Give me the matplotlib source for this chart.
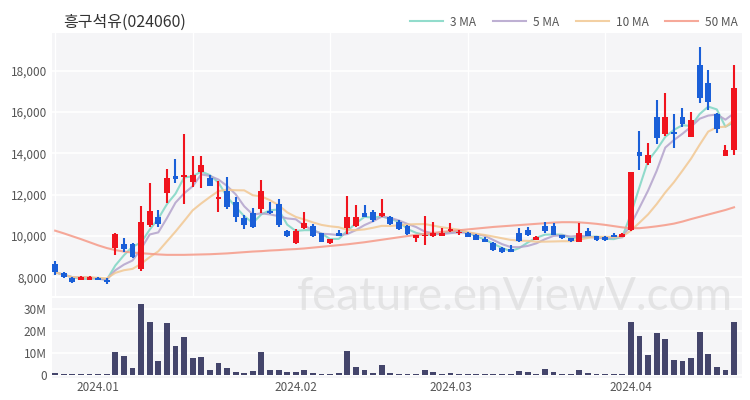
import numpy as np
import pandas as pd
import matplotlib
matplotlib.use("Agg")
import matplotlib.pyplot as plt

# candles (won), trading-day index 0..79
opens = [8650, 8200, 7990, 7880, 7880, 7960, 7850, 9440, 9600, 9620,
         8400, 10540, 10940, 12100, 12910, 12850, 12630, 13120, 12800, 11800,
         12200, 11640, 10890, 11130, 11300, 11230, 11530, 10220, 9680, 10380,
         10480, 10130, 9650, 10160, 10380, 10490, 11130, 11170, 10970, 10910,
         10700, 10480, 9900, 10000, 10000, 10000, 10220, 10130, 10160, 10060,
         9850, 9680, 9410, 9380, 10130, 10300, 9820, 10470, 10470, 10030,
         9900, 9730, 10220, 10000, 9950, 10060, 9950, 10300, 14060, 13520,
         15760, 14940, 15010, 15740, 14810, 18270, 17420, 15890, 13880, 14150]
highs = [8780, 8250, 8000, 8060, 8050, 8000, 7950, 10150, 9920, 9650,
         11450, 12550, 11250, 13250, 13730, 14950, 13880, 13880, 12960, 12650,
         12850, 11880, 11020, 11350, 12710, 11650, 11770, 10300, 10340, 11180,
         10600, 10150, 9880, 10300, 11960, 11500, 11500, 11250, 11780, 10950,
         10760, 10550, 10050, 10970, 10670, 10400, 10610, 10300, 10200, 10100,
         9950, 9700, 9450, 9570, 10380, 10430, 9980, 10700, 10620, 10050,
         9920, 10650, 10380, 10020, 9980, 10150, 10150, 13120, 15100, 14490,
         16580, 16900, 15900, 16180, 16020, 19130, 18030, 15970, 14400, 18270]
lows = [8100, 7950, 7750, 7850, 7860, 7850, 7700, 9090, 9250, 8950,
        8330, 10420, 10420, 11590, 12550, 11550, 12390, 12320, 12400, 11180,
        11330, 10700, 10330, 10400, 11100, 11050, 10450, 9960, 9620, 10330,
        9960, 9700, 9610, 9980, 10100, 10430, 10900, 10700, 10910, 10550,
        10300, 10030, 9730, 9570, 9950, 9990, 10180, 10050, 9950, 9800,
        9720, 9300, 9180, 9230, 9730, 10000, 9800, 10170, 10040, 9850,
        9720, 9720, 9990, 9770, 9780, 9940, 9930, 10260, 13200, 13440,
        14460, 14840, 14250, 15260, 14800, 16450, 16100, 15000, 13850, 13900]
closes = [8250, 8000, 7780, 8000, 8000, 7880, 7760, 10090, 9360, 9000,
          10700, 11230, 10590, 12800, 12750, 12950, 12960, 13450, 12430, 11880,
          11400, 10940, 10540, 10430, 12180, 11130, 10540, 9980, 10220, 10650,
          9980, 9730, 9860, 10000, 10910, 10940, 10940, 10780, 11130, 10590,
          10330, 10100, 10030, 10050, 10150, 10130, 10350, 10200, 9960, 9810,
          9730, 9330, 9220, 9250, 9780, 10030, 9950, 10220, 10060, 9920,
          9740, 10130, 10010, 9790, 9800, 9960, 10120, 13120, 13880, 13920,
          14730, 15740, 14930, 15420, 15610, 16670, 16500, 15200, 14160, 17150]
# volume in millions of shares
volumes = [0.5, 0.3, 0.3, 0.3, 0.3, 0.3, 0.3, 10.4, 8.7, 2.8,
           32.4, 24.1, 6.3, 23.8, 13.2, 17.3, 7.4, 8.1, 2.3, 5.1,
           2.8, 1.1, 0.9, 1.4, 10.4, 2.3, 2.0, 1.0, 1.0, 2.3,
           0.6, 0.4, 0.4, 0.6, 11.0, 3.4, 2.0, 0.6, 4.4, 0.5,
           0.4, 0.4, 0.4, 2.0, 1.2, 0.3, 0.8, 0.3, 0.3, 0.3,
           0.3, 0.3, 0.3, 0.3, 1.7, 1.1, 0.3, 2.5, 1.1, 0.3,
           0.3, 2.0, 0.8, 0.3, 0.3, 0.3, 0.3, 24.1, 18.0, 9.0,
           19.0, 16.3, 6.9, 6.3, 7.4, 19.4, 9.4, 3.4, 2.1, 24.4]
ma50 = [10260, 10130, 9990, 9850, 9700, 9550, 9420, 9320, 9250, 9200,
        9170, 9140, 9110, 9090, 9090, 9090, 9100, 9110, 9120, 9140,
        9160, 9190, 9220, 9250, 9270, 9300, 9320, 9350, 9370, 9400,
        9440, 9480, 9520, 9560, 9600, 9650, 9700, 9760, 9820, 9880,
        9940, 10000, 10050, 10100, 10150, 10200, 10240, 10280, 10320, 10360,
        10400, 10440, 10470, 10500, 10530, 10560, 10590, 10620, 10650, 10670,
        10670, 10660, 10630, 10590, 10540, 10480, 10420, 10380, 10380, 10420,
        10470, 10530, 10600, 10700, 10820, 10930, 11040, 11150, 11260, 11390]
month_ticks = [5, 28, 46, 67]
month_labels = ["2024.01", "2024.02", "2024.03", "2024.04"]

UP = "#f0141e"
DOWN = "#1a5fd8"
BG = "#f5f5f7"


def style_axis(ax):
    ax.set_facecolor(BG)
    for s in ax.spines.values():
        s.set_visible(False)
    ax.tick_params(length=0, labelsize=8.5, labelcolor="#555555")
    ax.grid(axis="y", color="white", linewidth=1.2)
    ax.set_axisbelow(True)


def main():
    plt.rcParams["font.family"] = ["Noto Sans CJK KR", "DejaVu Sans"]
    df = pd.DataFrame({"open": opens, "high": highs, "low": lows,
                       "close": closes, "volume": volumes})
    x = np.arange(len(df))

    fig = plt.figure(figsize=(7.5, 4), dpi=100)
    ax = fig.add_axes([0.069, 0.26, 0.92, 0.6575])
    axv = fig.add_axes([0.069, 0.055, 0.92, 0.2], sharex=ax)
    style_axis(ax)
    style_axis(axv)
    for v in [0, 16, 32, 48, 64]:
        ax.axvline(v, color="white", linewidth=1.0, zorder=0.5)

    up = df["close"] >= df["open"]
    colors = np.where(up, UP, DOWN)
    body_lo = np.minimum(df["open"], df["close"])
    body_h = np.maximum((df["close"] - df["open"]).abs(), 40)
    ax.vlines(x, df["low"], df["high"], colors=colors, linewidth=1.5, zorder=3)
    ax.bar(x, body_h, bottom=body_lo, width=0.68, color=colors, zorder=3)

    ma_styles = [(3, "3 MA", "#7fd6c4"), (5, "5 MA", "#b3a3cc"),
                 (10, "10 MA", "#f2c893")]
    for n, label, c in ma_styles:
        ma = df["close"].rolling(n, min_periods=1).mean()
        ax.plot(x, ma, color=c, linewidth=1.5, alpha=0.85, label=label, zorder=2)
    ax.plot(x, ma50, color="#f59a88", linewidth=1.5, alpha=0.85, label="50 MA", zorder=2)

    ax.set_ylim(7100, 19820)
    ax.set_yticks([8000, 10000, 12000, 14000, 16000, 18000])
    ax.set_yticklabels(["8,000", "10,000", "12,000", "14,000", "16,000", "18,000"])
    ax.set_xlim(-0.4, 79.9)
    plt.setp(ax.get_xticklabels(), visible=False)

    axv.bar(x, df["volume"] * 1e6, width=0.68, color="#44456b", zorder=3)
    axv.set_ylim(-1.6e6, 35.3e6)
    axv.set_yticks([0, 10e6, 20e6, 30e6])
    axv.set_yticklabels(["0", "10M", "20M", "30M"])
    axv.set_xticks(month_ticks)
    axv.set_xticklabels(month_labels)
    axv.tick_params(axis="x", pad=2)

    fig.text(0.084, 0.945, "흥구석유(024060)", fontsize=11.5, color="#333333",
             va="center", ha="left")
    fig.legend(loc="center right", bbox_to_anchor=(0.998, 0.945), ncol=4,
               frameon=False, fontsize=8.5, handlelength=2.8, columnspacing=1.4,
               handletextpad=0.6, labelcolor="#555555")
    fig.text(0.687, 0.258, "feature.enViewV.com", fontsize=33, color="#d2d2d2",
             alpha=0.5, ha="center", va="center", family="Lato", zorder=10)

    fig.savefig("out.png", dpi=100)


if __name__ == "__main__":
    main()
